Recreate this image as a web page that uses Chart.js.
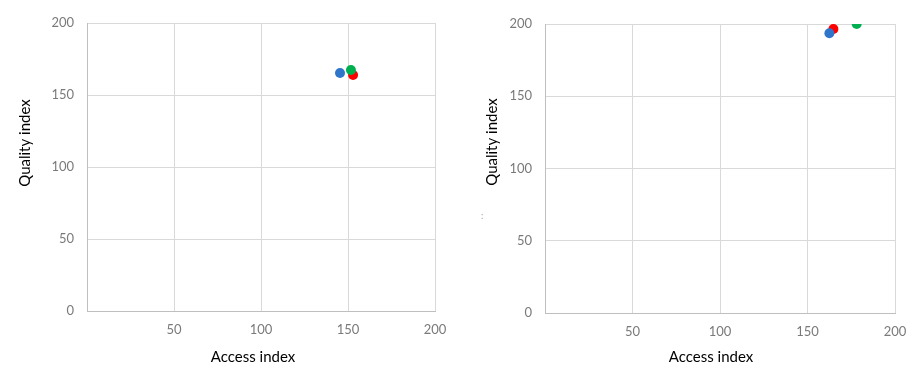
<!DOCTYPE html>
<html>
<head>
<meta charset="utf-8">
<script src="https://cdn.jsdelivr.net/npm/chart.js@4/dist/chart.umd.min.js"></script>
<style>
  html, body { margin: 0; padding: 0; background: #ffffff; }
  #wrap { position: relative; width: 907px; height: 389px; overflow: hidden; }
  #c1 { position: absolute; left: 0; top: 0; }
  #c2 { position: absolute; left: 450px; top: 0; }
  #mark { position: absolute; left: 481px; top: 210px; font: 9px "Lato", sans-serif; color: #9a9a9a; }
</style>
</head>
<body>
<div id="wrap">
  <canvas id="c1" width="450" height="389"></canvas>
  <canvas id="c2" width="457" height="389"></canvas>
  <div id="mark">:</div>
</div>
<script>
// ---- data ----
const seriesNames = ['Series 1', 'Series 2', 'Series 3'];
const seriesColors = ['#2F75C9', '#00B050', '#FF0000'];
const leftAccess = [145.4, 151.7, 152.9];
const leftQuality = [165.3, 167.4, 163.9];
const rightAccess = [162.5, 178.1, 164.8];
const rightQuality = [193.6, 200, 196.5];
const axisTicks = [0, 50, 100, 150, 200];
const xTitle = 'Access index';
const yTitle = 'Quality index';

// draws the axis titles at the spots they occupy in the reference
const axisTitlePlugin = {
  id: 'axisTitles',
  afterDraw(chart, args, opts) {
    const ctx = chart.ctx;
    ctx.save();
    ctx.fillStyle = '#000000';
    ctx.font = '15px Lato';
    ctx.textAlign = 'center';
    ctx.textBaseline = 'middle';
    ctx.fillText(opts.xText, opts.xPos[0], opts.xPos[1]);
    ctx.translate(opts.yPos[0], opts.yPos[1]);
    ctx.rotate(-Math.PI / 2);
    ctx.fillText(opts.yText, 0, 0);
    ctx.restore();
  }
};

function makeDatasets(xs, ys) {
  return seriesNames.map((name, i) => ({
    label: name,
    data: [{ x: xs[i], y: ys[i] }],
    backgroundColor: seriesColors[i],
    borderColor: seriesColors[i],
    pointRadius: 5,
    pointHoverRadius: 5,
    borderWidth: 0
  }));
}

function makeConfig(xs, ys, pad, yWidth, xHeight, xPos, yPos) {
  return {
    type: 'scatter',
    data: { datasets: makeDatasets(xs, ys) },
    plugins: [axisTitlePlugin],
    options: {
      responsive: false,
      animation: false,
      events: [],
      layout: { padding: pad },
      plugins: {
        legend: { display: false },
        tooltip: { enabled: false },
        axisTitles: { xText: xTitle, yText: yTitle, xPos: xPos, yPos: yPos }
      },
      scales: {
        x: {
          type: 'linear',
          min: axisTicks[0],
          max: axisTicks[axisTicks.length - 1],
          afterBuildTicks: (s) => { s.ticks = axisTicks.map(v => ({ value: v })); },
          afterFit: (s) => { s.height = xHeight; s.paddingLeft = 0; s.paddingRight = 0; },
          ticks: {
            color: '#7a7a7a',
            font: { family: 'Lato', size: 13 },
            padding: 11,
            maxRotation: 0,
            callback: (v) => (v === 0 ? '' : String(v))
          },
          grid: { color: '#d9d9d9', lineWidth: 1, drawTicks: false },
          border: { color: '#bfbfbf', width: 1 },
          title: { display: false, text: xTitle }
        },
        y: {
          type: 'linear',
          min: axisTicks[0],
          max: axisTicks[axisTicks.length - 1],
          afterBuildTicks: (s) => { s.ticks = axisTicks.map(v => ({ value: v })); },
          afterFit: (s) => { s.width = yWidth; s.paddingTop = 0; s.paddingBottom = 0; },
          ticks: {
            color: '#7a7a7a',
            font: { family: 'Lato', size: 13 },
            padding: 13
          },
          grid: { color: '#d9d9d9', lineWidth: 1, drawTicks: false },
          border: { color: '#bfbfbf', width: 1 },
          title: { display: false, text: yTitle }
        }
      }
    }
  };
}

new Chart(document.getElementById('c1'),
  makeConfig(leftAccess, leftQuality, { left: 16, right: 15, top: 23, bottom: 20 }, 71, 58,
    [253, 357], [25, 143]));
new Chart(document.getElementById('c2'),
  makeConfig(rightAccess, rightQuality, { left: 33, right: 12, top: 24, bottom: 20 }, 62, 56,
    [261, 357], [42, 142]));
</script>
</body>
</html>
